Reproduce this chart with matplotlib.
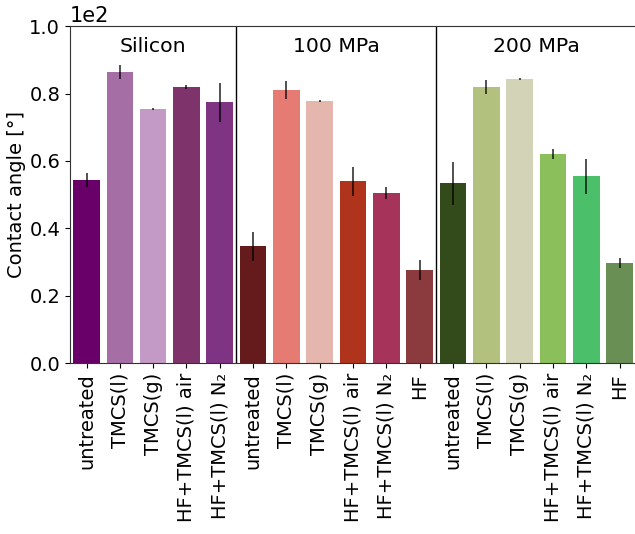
import matplotlib
matplotlib.use("Agg")
import matplotlib.pyplot as plt
import numpy as np

labels = ["untreated", "TMCS(l)", "TMCS(g)", "HF+TMCS(l) air", "HF+TMCS(l) N\u2082",
          "untreated", "TMCS(l)", "TMCS(g)", "HF+TMCS(l) air", "HF+TMCS(l) N\u2082", "HF",
          "untreated", "TMCS(l)", "TMCS(g)", "HF+TMCS(l) air", "HF+TMCS(l) N\u2082", "HF"]
values = [54.3, 86.4, 75.4, 81.9, 77.4,
          34.7, 81.0, 77.7, 54.0, 50.4, 27.6,
          53.4, 81.9, 84.3, 62.0, 55.5, 29.7]
errors = [2.0, 2.0, 0.4, 0.5, 5.8,
          4.3, 2.6, 0.3, 4.3, 1.8, 3.0,
          6.4, 2.1, 0.3, 1.4, 5.2, 1.5]
colors = ["#690069", "#a56fa5", "#c39ac5", "#7e346a", "#7e3383",
          "#651a1c", "#e57b72", "#e4b6ad", "#b0331c", "#a5335a", "#8b3a3e",
          "#334a1a", "#b2c17d", "#d3d3b7", "#8bbf5b", "#4bbf69", "#6a8f55"]
groups = ["Silicon", "100 MPa", "200 MPa"]
group_sizes = [5, 6, 6]

fig = plt.figure(figsize=(6.35, 5.34), dpi=100)
ax = fig.add_axes([0.110, 0.320, 0.892, 0.631])
x = np.arange(len(values))
ax.bar(x, values, width=0.8, color=colors)
ax.errorbar(x, values, yerr=errors, fmt="none", ecolor="black", elinewidth=1.2, alpha=0.8, capsize=0)

start = 0
for g, n in zip(groups, group_sizes):
    end = start + n
    center = (start + end - 1) / 2
    ax.text(center, 94, g, ha="center", va="center", fontsize=14.7)
    if end < len(values):
        ax.axvline(end - 0.5, color="black", lw=1)
    start = end

ax.set_xlim(-0.5, len(values) - 0.5)
ax.set_ylim(0, 100)
ax.set_xticks(x)
ax.set_xticklabels(labels, rotation=90, fontsize=14)
ax.tick_params(axis="y", labelsize=14)
ax.ticklabel_format(axis="y", style="sci", scilimits=(0, 0))
ax.yaxis.get_offset_text().set_fontsize(15)
ax.set_ylabel("Contact angle [°]", fontsize=14, labelpad=2)
for s in ax.spines.values():
    s.set_color("#333333")

fig.savefig("out.png", dpi=100)
